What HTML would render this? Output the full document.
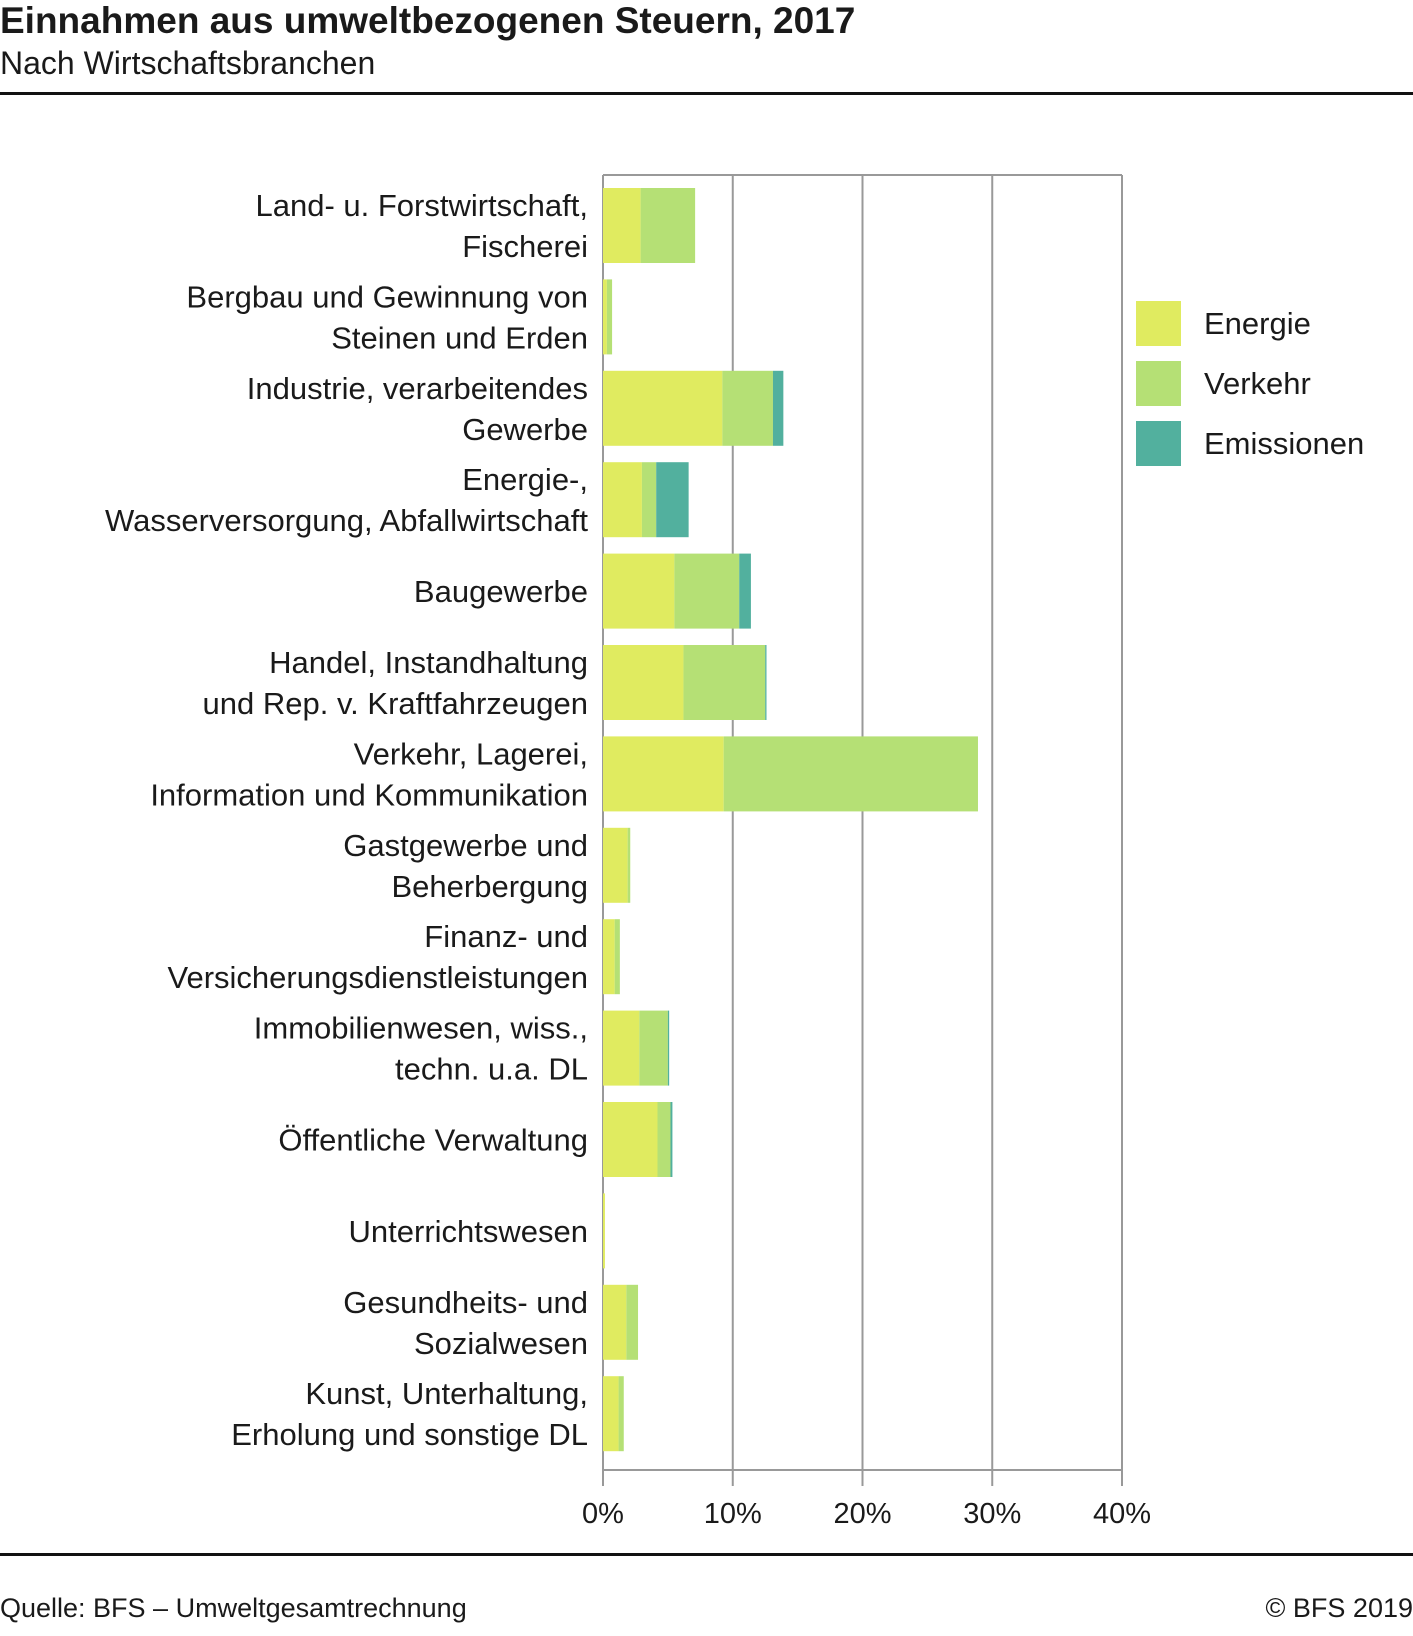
<!DOCTYPE html>
<html><head><meta charset="utf-8"><style>
body{margin:0;background:#fff;width:1413px;height:1631px;overflow:hidden;font-family:"Liberation Sans",sans-serif;}
svg text{font-family:"Liberation Sans",sans-serif;fill:#1a1a1a;}
</style></head><body>
<svg id="chart" width="1413" height="1631" xmlns="http://www.w3.org/2000/svg">
<text x="0" y="33" font-size="37" font-weight="bold">Einnahmen aus umweltbezogenen Steuern, 2017</text>
<text x="0" y="74" font-size="32">Nach Wirtschaftsbranchen</text>
<rect x="0" y="92" width="1413" height="3" fill="#111"/>
<rect x="0" y="1553" width="1413" height="3" fill="#111"/>
<text x="0" y="1617" font-size="27">Quelle: BFS – Umweltgesamtrechnung</text>
<text x="1413" y="1617" font-size="27" text-anchor="end">© BFS 2019</text>
<g id="grid"></g><g id="bars"></g><g id="labels"></g><g id="legend"></g>
</svg>
<script>
const categories=[["Land- u. Forstwirtschaft,","Fischerei"],["Bergbau und Gewinnung von","Steinen und Erden"],["Industrie, verarbeitendes","Gewerbe"],["Energie-,","Wasserversorgung, Abfallwirtschaft"],["Baugewerbe"],["Handel, Instandhaltung","und Rep. v. Kraftfahrzeugen"],["Verkehr, Lagerei,","Information und Kommunikation"],["Gastgewerbe und","Beherbergung"],["Finanz- und","Versicherungsdienstleistungen"],["Immobilienwesen, wiss.,","techn. u.a. DL"],["Öffentliche Verwaltung"],["Unterrichtswesen"],["Gesundheits- und","Sozialwesen"],["Kunst, Unterhaltung,","Erholung und sonstige DL"]];
const energie=[2.9,0.3,9.2,3.0,5.5,6.2,9.3,1.9,0.9,2.8,4.2,0.15,1.8,1.2];
const verkehr=[4.2,0.4,3.9,1.1,5.0,6.3,19.6,0.2,0.4,2.2,1.0,0,0.9,0.4];
const emissionen=[0,0,0.8,2.5,0.9,0.1,0,0,0,0.1,0.15,0,0,0];
const ticks=[0,10,20,30,40];
const tickLabels=["0%","10%","20%","30%","40%"];
const seriesNames=["Energie","Verkehr","Emissionen"];
const colors=["#e0eb60","#b5e075","#52b09e"];
const NS="http://www.w3.org/2000/svg";
const X0=603,X1=1122,YT=175,YB=1470;
const xs=v=>X0+(v/40)*(X1-X0);
const band=91.4;
const ys=i=>188+i*band;
function mk(t,a,p){const e=document.createElementNS(NS,t);for(const k in a)e.setAttribute(k,a[k]);p.appendChild(e);return e;}
const gridG=document.getElementById('grid');
ticks.forEach((t,i)=>{
 const l=mk('line',{x1:xs(t),x2:xs(t),y1:YT,y2:YB+16,stroke:'#999','stroke-width':2},gridG);
 
 
 const tx=mk('text',{x:xs(t),y:1523,'font-size':29,'text-anchor':'middle'},gridG);
 tx.textContent=tickLabels[i];
 
 
});
const plotTop=mk('line',{x1:X0,x2:X1,y1:YT,y2:YT,stroke:'#999','stroke-width':2},gridG);


const plotBot=mk('line',{x1:X0,x2:X1,y1:YB,y2:YB,stroke:'#999','stroke-width':2},gridG);


const barsG=document.getElementById('bars'),labelsG=document.getElementById('labels');
const series=[energie,verkehr,emissionen];
categories.forEach((c,i)=>{
 let acc=0;const by=ys(i),bh=75;
 series.forEach((s,k)=>{
  const v=s[i];if(v<=0)return;
  const r=mk('rect',{x:xs(acc),y:by,width:xs(acc+v)-xs(acc),height:bh,fill:colors[k]},barsG);
  
  
  acc+=v;
 });
 const cy=by+bh/2;
 const t=mk('text',{x:588,'font-size':31,'text-anchor':'end'},labelsG);
 
 
 const n=c.length;
 c.forEach((line,j)=>{const ts=mk('tspan',{x:588,y:cy+11+(j-(n-1)/2)*41},t);ts.textContent=line;});
});
const lg=document.getElementById('legend');
seriesNames.forEach((s,k)=>{
 const r=mk('rect',{x:1136,y:301+k*60,width:45,height:45,fill:colors[k]},lg);
 
 
 const t=mk('text',{x:1204,y:334+k*60,'font-size':31},lg);
 t.textContent=s;
 
 
});
</script>
</body></html>
